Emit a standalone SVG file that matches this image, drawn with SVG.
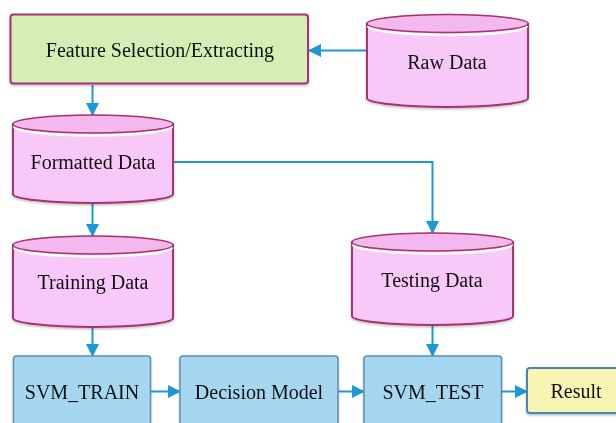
<svg xmlns="http://www.w3.org/2000/svg" width="616" height="423" viewBox="0 0 616 423" font-family="'Liberation Serif', 'Times New Roman', serif">
  <style>
    text { font-family: "Liberation Serif", "Times New Roman", serif; font-size: 20px; fill: #111; text-anchor: middle; }
    .conn { fill: none; stroke: #1b98d5; stroke-width: 2; }
    .cyl-body { fill: #f8c8f8; stroke: #a8306e; stroke-width: 2; }
    .cyl-top { fill: #f3b8ee; stroke: #a8306e; stroke-width: 1.5; }
    .cyl-gap { fill: none; stroke: #ffffff; stroke-width: 2.5; }
    .proc { fill: #a5d8f0; stroke: #5b8db5; stroke-width: 1.5; }
    .feat { fill: #d5eeb6; stroke: #a8306e; stroke-width: 2; }
    .res { fill: #f8f5b2; stroke: #4a84b5; stroke-width: 2; }
  </style>
  <defs>
    <marker id="arrow" markerUnits="userSpaceOnUse" markerWidth="13" markerHeight="13" viewBox="0 0 13 13" refX="12" refY="6.5" orient="auto">
      <path d="M0,0 L13,6.5 L0,13 Z" fill="#1b98d5"/>
    </marker>
    <filter id="soft" x="-10%" y="-10%" width="120%" height="130%">
      <feDropShadow dx="0" dy="1.5" stdDeviation="1.2" flood-color="#000" flood-opacity="0.25"/>
    </filter>
  </defs>

  <!-- connectors -->
  <g id="connectors">
    <path class="conn" d="M369,50.5 L309,50.5" marker-end="url(#arrow)"/>
    <path class="conn" d="M92.5,85 L92.5,115" marker-end="url(#arrow)"/>
    <path class="conn" d="M173,162 L432.5,162 L432.5,233" marker-end="url(#arrow)"/>
    <path class="conn" d="M92.5,204 L92.5,236" marker-end="url(#arrow)"/>
    <path class="conn" d="M92.5,327 L92.5,356" marker-end="url(#arrow)"/>
    <path class="conn" d="M432.5,326 L432.5,356" marker-end="url(#arrow)"/>
    <path class="conn" d="M151,391.5 L180,391.5" marker-end="url(#arrow)"/>
    <path class="conn" d="M338,391.5 L364,391.5" marker-end="url(#arrow)"/>
    <path class="conn" d="M502,391.5 L527,391.5" marker-end="url(#arrow)"/>
  </g>

  <!-- feature selection -->
  <g id="feature" filter="url(#soft)">
    <rect class="feat" x="10.5" y="14.5" width="297.5" height="69" rx="3"/>
    <text x="160" y="57">Feature Selection/Extracting</text>
  </g>

  <!-- raw data store -->
  <g id="raw-data" filter="url(#soft)">
    <path class="cyl-body" d="M367,23.5 L367,98 A80.5,9 0 0 0 528,98 L528,23.5 Z"/>
    <path class="cyl-gap" d="M368,26 A79.5,9 0 0 0 527,26"/>
    <ellipse class="cyl-top" cx="447.5" cy="23.5" rx="80.5" ry="9"/>
    <text x="447" y="69">Raw Data</text>
  </g>

  <!-- formatted data store -->
  <g id="formatted-data" filter="url(#soft)">
    <path class="cyl-body" d="M13,124 L13,194 A80,9 0 0 0 173,194 L173,124 Z"/>
    <path class="cyl-gap" d="M14,126.5 A79,9 0 0 0 172,126.5"/>
    <ellipse class="cyl-top" cx="93" cy="124" rx="80" ry="9"/>
    <text x="93" y="169">Formatted Data</text>
  </g>

  <!-- training data store -->
  <g id="training-data" filter="url(#soft)">
    <path class="cyl-body" d="M13,245 L13,318 A80,9 0 0 0 173,318 L173,245 Z"/>
    <path class="cyl-gap" d="M14,247.5 A79,9 0 0 0 172,247.5"/>
    <ellipse class="cyl-top" cx="93" cy="245" rx="80" ry="9"/>
    <text x="93" y="289">Training Data</text>
  </g>

  <!-- testing data store -->
  <g id="testing-data" filter="url(#soft)">
    <path class="cyl-body" d="M352,242 L352,316 A80.5,9 0 0 0 513,316 L513,242 Z"/>
    <path class="cyl-gap" d="M353,244.5 A79.5,9 0 0 0 512,244.5"/>
    <ellipse class="cyl-top" cx="432.5" cy="242" rx="80.5" ry="9"/>
    <text x="432" y="287">Testing Data</text>
  </g>

  <!-- processing steps -->
  <g id="svm-train" filter="url(#soft)">
    <rect class="proc" x="13.5" y="356" width="137" height="76" rx="3"/>
    <text x="82" y="399">SVM_TRAIN</text>
  </g>
  <g id="decision-model" filter="url(#soft)">
    <rect class="proc" x="180" y="356" width="158" height="76" rx="3"/>
    <text x="259" y="399">Decision Model</text>
  </g>
  <g id="svm-test" filter="url(#soft)">
    <rect class="proc" x="364" y="356" width="137.5" height="76" rx="3"/>
    <text x="433" y="399">SVM_TEST</text>
  </g>

  <!-- result -->
  <g id="result" filter="url(#soft)">
    <rect class="res" x="527" y="368" width="100" height="45" rx="3"/>
    <text x="576" y="398">Result</text>
  </g>
</svg>
